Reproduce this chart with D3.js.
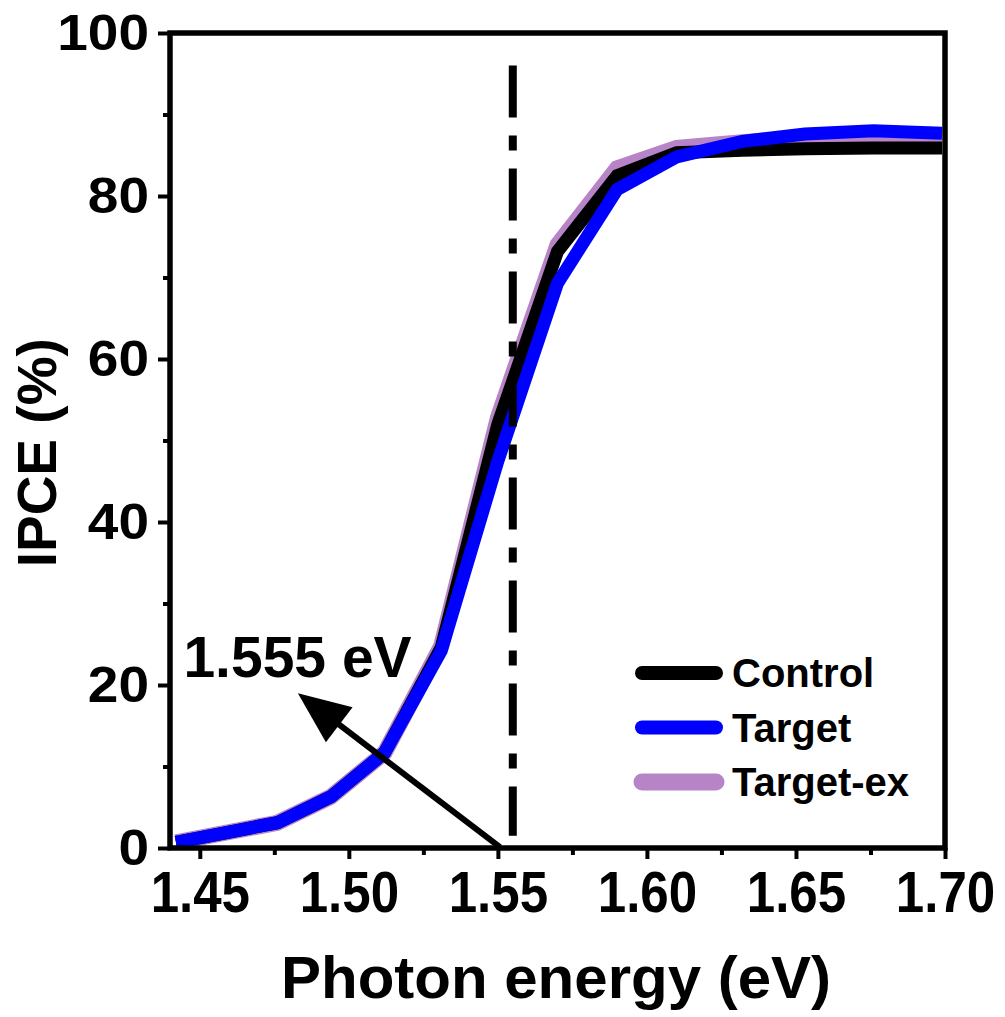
<!DOCTYPE html>
<html>
<head>
<meta charset="utf-8">
<script src="https://cdn.jsdelivr.net/npm/d3@7"></script>
<style>
  body { margin: 0; background: #fff; }
  svg text { font-family: "Liberation Sans", Arial, sans-serif; font-weight: bold; fill: #000; }
</style>
</head>
<body>
<svg id="chart"></svg>
<script>
// photon energies (eV), one per 10 nm step
const energy = [1.442, 1.459, 1.476, 1.494, 1.512, 1.531, 1.550, 1.570, 1.590, 1.610, 1.632, 1.653, 1.676, 1.699];
const control  = [0.7, 1.9, 3.1, 6.3, 11.7, 24.6, 52.0, 73.2, 82.5, 85.3, 85.6, 85.8, 85.9, 85.9];
const target   = [0.7, 1.9, 3.1, 6.3, 11.7, 24.2, 47.5, 69.3, 80.8, 84.8, 86.7, 87.6, 88.0, 87.7];
const targetEx = [0.7, 1.9, 3.1, 6.3, 11.7, 24.8, 52.8, 74.0, 83.4, 85.9, 86.6, 87.2, 87.4, 87.3];

const xTicks = [1.45, 1.50, 1.55, 1.60, 1.65, 1.70];
const xMinor = [1.475, 1.525, 1.575, 1.625, 1.675];
const yTicks = [0, 20, 40, 60, 80, 100];
const yMinor = [10, 30, 50, 70, 90];

const bandGap = 1.555;
const arrowFrom = [1.5507, 0.1];
const arrowTo = [1.4829, 19.0];

const config = {
  width: 1005, height: 1017,
  margin: {top: 33, right: 60, bottom: 169, left: 170}
};

const series = [
  {name: 'Target-ex', values: targetEx, color: '#b784c7', width: 16},
  {name: 'Control',   values: control,  color: '#000000', width: 13},
  {name: 'Target',    values: target,   color: '#0000ff', width: 13}
];

const svg = d3.select('#chart')
  .attr('width', config.width)
  .attr('height', config.height);

const w = config.width - config.margin.left - config.margin.right;
const h = config.height - config.margin.top - config.margin.bottom;

const xScale = d3.scaleLinear().domain([1.44, 1.70]).range([0, w]);
const yScale = d3.scaleLinear().domain([0, 100]).range([h, 0]);

const chart = svg.append('g')
  .attr('transform', `translate(${config.margin.left},${config.margin.top})`);

svg.append('clipPath').attr('id', 'plotclip')
  .append('rect').attr('x', 0).attr('y', 0).attr('width', w).attr('height', h);

// curves
const line = d3.line()
  .x(d => xScale(d[0]))
  .y(d => yScale(d[1]));

chart.append('g').attr('clip-path', 'url(#plotclip)')
  .selectAll('.curve')
  .data(series)
  .join('path')
  .attr('class', 'curve')
  .attr('fill', 'none')
  .attr('stroke', d => d.color)
  .attr('stroke-width', d => d.width)
  .attr('stroke-linejoin', 'miter')
  .attr('d', d => line(energy.map((e, i) => [e, d.values[i]])));

// dash-dot marker at band gap
chart.append('line')
  .attr('x1', xScale(bandGap)).attr('x2', xScale(bandGap))
  .attr('y1', yScale(96)).attr('y2', yScale(1.5))
  .attr('stroke', '#000')
  .attr('stroke-width', 8)
  .attr('stroke-dasharray', '52,18,15,18');

// arrow
const ax1 = xScale(arrowFrom[0]), ay1 = yScale(arrowFrom[1]);
const ax2 = xScale(arrowTo[0]), ay2 = yScale(arrowTo[1]);
const ang = Math.atan2(ay2 - ay1, ax2 - ax1);
const headLen = 52, headHalf = 22;
const bx = ax2 - headLen * Math.cos(ang), by = ay2 - headLen * Math.sin(ang);
chart.append('line')
  .attr('x1', ax1).attr('y1', ay1)
  .attr('x2', bx + 5 * Math.cos(ang)).attr('y2', by + 5 * Math.sin(ang))
  .attr('stroke', '#000').attr('stroke-width', 6);
chart.append('path')
  .attr('d', `M${ax2},${ay2}L${bx - headHalf * Math.sin(ang)},${by + headHalf * Math.cos(ang)}L${bx + headHalf * Math.sin(ang)},${by - headHalf * Math.cos(ang)}Z`)
  .attr('fill', '#000');

chart.append('text')
  .attr('x', xScale(1.4445))
  .attr('y', yScale(21.0))
  .attr('font-size', 57)
  .text('1.555 eV');

// axes
const xAxis = d3.axisBottom(xScale).tickValues(xTicks).tickFormat(d3.format('.2f')).tickSize(11).tickPadding(12);
const xAxisMinor = d3.axisBottom(xScale).tickValues(xMinor).tickFormat('').tickSize(7);
const yAxis = d3.axisLeft(yScale).tickValues(yTicks).tickFormat(d3.format('d')).tickSize(12).tickPadding(9);
const yAxisMinor = d3.axisLeft(yScale).tickValues(yMinor).tickFormat('').tickSize(7);

const xAxisG = chart.append('g').attr('class', 'axis x-axis')
  .attr('transform', `translate(0,${h})`).call(xAxis);
chart.append('g').attr('class', 'axis x-axis')
  .attr('transform', `translate(0,${h})`).call(xAxisMinor);
const yAxisG = chart.append('g').attr('class', 'axis y-axis').call(yAxis);
chart.append('g').attr('class', 'axis y-axis').call(yAxisMinor);

chart.selectAll('.axis .domain').remove();
chart.selectAll('.axis .tick line').attr('stroke', '#000').attr('stroke-width', 4);

xAxisG.selectAll('.tick text')
  .attr('font-size', 58)
  .attr('font-family', '"Liberation Sans", Arial, sans-serif')
  .attr('font-weight', 'bold')
  .attr('dy', '0.71em')
  .attr('transform', 'scale(0.88,1)');

yAxisG.selectAll('.tick text')
  .attr('font-size', 50)
  .attr('font-family', '"Liberation Sans", Arial, sans-serif')
  .attr('font-weight', 'bold')
  .attr('x', -21 / 1.1)
  .attr('transform', 'scale(1.1,1)');

// frame
chart.append('rect')
  .attr('x', 0).attr('y', 0).attr('width', w).attr('height', h)
  .attr('fill', 'none').attr('stroke', '#000').attr('stroke-width', 5.5);

// axis titles
svg.append('text')
  .attr('x', config.margin.left + xScale(1.5695))
  .attr('y', 998)
  .attr('text-anchor', 'middle')
  .attr('font-size', 60)
  .text('Photon energy (eV)');

svg.append('text')
  .attr('transform', `translate(56,${config.margin.top + yScale(48.5)}) rotate(-90)`)
  .attr('text-anchor', 'middle')
  .attr('font-size', 55)
  .text('IPCE (%)');

// legend
const legendOrder = ['Control', 'Target', 'Target-ex'];
const legendColor = {'Control': '#000000', 'Target': '#0000ff', 'Target-ex': '#b784c7'};
const legend = svg.append('g').attr('transform', 'translate(635,673)');
const items = legend.selectAll('.legend-item')
  .data(legendOrder)
  .join('g')
  .attr('class', 'legend-item')
  .attr('transform', (d, i) => `translate(0,${i * 54.5})`);
items.append('line')
  .attr('x1', 7).attr('x2', 81).attr('y1', 0).attr('y2', 0)
  .attr('stroke', d => legendColor[d])
  .attr('stroke-width', d => d === 'Target-ex' ? 17 : 14)
  .attr('stroke-linecap', 'round');
items.append('text')
  .attr('x', 97).attr('y', 0).attr('dy', '0.36em')
  .attr('font-size', 40)
  .text(d => d);
</script>
</body>
</html>
